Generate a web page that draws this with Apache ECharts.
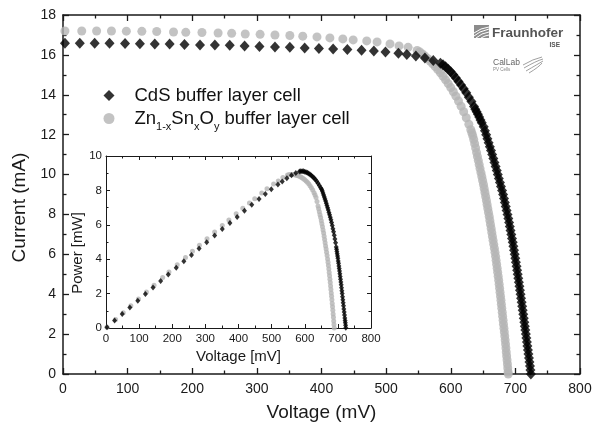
<!DOCTYPE html>
<html>
<head>
<meta charset="utf-8">
<script src="https://cdn.jsdelivr.net/npm/echarts@6/dist/echarts.min.js"></script>
<style>
  html, body { margin: 0; padding: 0; background: #fff; }
  #chart { width: 600px; height: 427px; }
</style>
</head>
<body>
<div id="chart"></div>
<script>
// main I-V curves, CdS buffer layer cell: voltage (mV), current (mA)
const cdsVoltage = [3, 26, 49, 72, 96, 119, 142, 165, 188, 212, 235, 258, 281, 304, 328, 351, 374, 396, 418, 440, 462, 481, 499, 519, 532, 546, 560, 573, 584,
  588, 592, 596, 600, 604, 608, 612, 616, 620, 624, 628, 632, 636, 638, 640, 642, 644, 646, 648,
  651, 652.9, 654.8, 656.7, 658.6, 660.5, 662.3, 664.1, 665.9, 667.6, 669.4, 671.2, 672.8, 674.4, 676.1, 677.7, 679.4,
  681, 682.4, 683.7, 685.1, 686.4, 687.8, 689.1, 690.3, 691.4, 692.5, 693.7, 694.8, 695.9, 696.9, 697.9, 698.9, 699.9,
  700.8, 701.8, 702.7, 703.6, 704.5, 705.4, 706.3, 707.1, 708.0, 708.8, 709.7, 710.5, 711.3, 712.2, 713.0, 713.8, 714.6,
  715.4, 716.2, 717.0, 717.8, 718.6, 719.4, 720.2, 721.0, 721.8, 722.6, 723.3, 724.0];
const cdsCurrent = [16.58, 16.58, 16.58, 16.58, 16.57, 16.56, 16.55, 16.54, 16.52, 16.5, 16.5, 16.48, 16.45, 16.42, 16.4, 16.38, 16.35, 16.32, 16.3, 16.27, 16.23, 16.2, 16.15, 16.08, 16.02, 15.95, 15.85, 15.72, 15.58,
  15.5, 15.4, 15.28, 15.15, 15.0, 14.84, 14.67, 14.49, 14.3, 14.1, 13.88, 13.66, 13.41, 13.28, 13.15, 13.02, 12.88, 12.74, 12.6,
  12.4, 12.2, 12.0, 11.8, 11.6, 11.4, 11.2, 11.0, 10.8, 10.6, 10.4, 10.2, 10.0, 9.8, 9.6, 9.4, 9.2,
  9.0, 8.8, 8.6, 8.4, 8.2, 8.0, 7.8, 7.6, 7.4, 7.2, 7.0, 6.8, 6.6, 6.4, 6.2, 6.0, 5.8,
  5.6, 5.4, 5.2, 5.0, 4.8, 4.6, 4.4, 4.2, 4.0, 3.8, 3.6, 3.4, 3.2, 3.0, 2.8, 2.6, 2.4,
  2.2, 2.0, 1.8, 1.6, 1.4, 1.2, 1.0, 0.8, 0.6, 0.4, 0.2, 0.0];

// main I-V curves, Zn(1-x)Sn(x)O(y) buffer layer cell
const znoVoltage = [3, 29, 52, 75, 98, 122, 145, 171, 190, 215, 240, 261, 282, 305, 328, 351, 371, 393, 413, 433, 449, 470, 486, 506, 520, 534, 548,
  552, 556, 560, 564, 568, 572, 576, 580, 584, 588, 592, 596, 600, 604, 608, 612, 616, 620, 624, 628, 631, 632.5, 634, 635.5, 637, 638.5, 640,
  641.3, 642.7, 644.0, 645.3, 646.7, 648.0, 649.3, 650.6, 651.7, 652.9, 654.0, 655.2, 656.2, 657.3, 658.4, 659.5,
  660.5, 661.5, 662.5, 663.5, 664.5, 665.5, 666.5, 667.5, 668.5, 669.4, 670.2, 671.0, 671.8, 672.6, 673.4,
  674.2, 674.9, 675.6, 676.3, 677.0, 677.7, 678.3, 679.0, 679.7, 680.3, 681.0, 681.6, 682.3, 682.9, 683.6,
  684.2, 684.8, 685.4, 685.9, 686.5, 687.1, 687.7, 688.2, 688.7, 689.0];
const znoCurrent = [17.2, 17.2, 17.2, 17.2, 17.19, 17.18, 17.17, 17.15, 17.13, 17.12, 17.1, 17.08, 17.05, 17.03, 17.0, 16.97, 16.94, 16.9, 16.85, 16.8, 16.75, 16.7, 16.65, 16.55, 16.45, 16.38, 16.22,
  16.15, 16.05, 15.94, 15.82, 15.69, 15.55, 15.41, 15.26, 15.1, 14.93, 14.75, 14.56, 14.36, 14.15, 13.93, 13.69, 13.43, 13.15, 12.85, 12.52, 12.25, 12.1, 11.95, 11.76, 11.55, 11.33, 11.1,
  10.9, 10.7, 10.5, 10.3, 10.1, 9.9, 9.7, 9.5, 9.3, 9.1, 8.9, 8.7, 8.5, 8.3, 8.1, 7.9,
  7.7, 7.5, 7.3, 7.1, 6.9, 6.7, 6.5, 6.3, 6.1, 5.9, 5.7, 5.5, 5.3, 5.1, 4.9,
  4.7, 4.5, 4.3, 4.1, 3.9, 3.7, 3.5, 3.3, 3.1, 2.9, 2.7, 2.5, 2.3, 2.1, 1.9,
  1.7, 1.5, 1.3, 1.1, 0.9, 0.7, 0.5, 0.3, 0.1, 0.0];

// inset P-V curves: voltage (mV), power (mW)
const cdsInsetVoltage = [3, 26, 49, 72, 96, 119, 142, 165, 188, 212, 235, 258, 281, 304, 328, 351, 374, 396, 418, 440, 462, 481, 499, 519, 532, 546, 560, 573, 584,
  588, 592, 596, 600, 604, 608, 612, 616, 620, 624, 628, 632, 636, 640, 644, 648, 651,
  653, 655, 657, 659, 661, 663, 665, 667, 669, 671, 673, 675, 677, 679, 681, 683, 685, 687, 689, 691, 693, 695,
  696, 697, 698, 699, 700, 701, 702, 703, 704, 705, 706, 707, 708, 709, 710, 711, 712, 713, 714, 715, 716, 717, 718, 719, 720, 721, 721.8, 722.5, 723.2, 724];
const cdsPower = [0.05, 0.43, 0.81, 1.19, 1.59, 1.97, 2.35, 2.73, 3.11, 3.5, 3.88, 4.25, 4.62, 4.99, 5.38, 5.75, 6.11, 6.46, 6.81, 7.16, 7.5, 7.79, 8.06, 8.35, 8.52, 8.71, 8.88, 9.01, 9.1,
  9.11, 9.12, 9.11, 9.09, 9.06, 9.02, 8.98, 8.93, 8.87, 8.8, 8.72, 8.63, 8.53, 8.42, 8.29, 8.16, 8.07,
  7.96, 7.85, 7.73, 7.62, 7.5, 7.38, 7.26, 7.12, 6.99, 6.86, 6.72, 6.58, 6.44, 6.29, 6.13, 5.96, 5.77, 5.59, 5.39, 5.18, 4.95, 4.71,
  4.58, 4.45, 4.31, 4.18, 4.05, 3.9, 3.76, 3.61, 3.46, 3.31, 3.16, 3.0, 2.83, 2.67, 2.51, 2.34, 2.17, 2.0, 1.82, 1.64, 1.47, 1.29, 1.11, 0.93, 0.76, 0.58, 0.43, 0.3, 0.16, 0.01];
const znoInsetVoltage = [3, 29, 52, 75, 98, 122, 145, 171, 190, 215, 240, 261, 282, 305, 328, 351, 371, 393, 413, 433, 449, 470, 486, 506, 520, 534, 548,
  552, 556, 560, 564, 568, 572, 576, 580, 584, 588, 592, 596, 600, 604, 608, 612, 616, 620, 624, 628, 631, 634, 637, 640,
  642, 644, 646, 648, 650, 651.7, 653.5, 655.2, 657, 658.5, 660, 661.5, 663, 664.5, 666, 667.5, 669, 670.3, 671.5, 672.7, 673.8, 674.9,
  676, 677, 678, 679, 680, 681, 682, 683, 683.9, 684.8, 685.7, 686.6, 687.4, 688.2, 689];
const znoPower = [0.05, 0.5, 0.89, 1.29, 1.68, 2.1, 2.49, 2.93, 3.25, 3.68, 4.1, 4.46, 4.81, 5.19, 5.58, 5.96, 6.28, 6.64, 6.96, 7.27, 7.52, 7.85, 8.09, 8.37, 8.55, 8.75, 8.89,
  8.91, 8.92, 8.93, 8.92, 8.91, 8.89, 8.88, 8.85, 8.82, 8.78, 8.73, 8.68, 8.62, 8.55, 8.47, 8.38, 8.27, 8.15, 8.02, 7.86, 7.73, 7.58, 7.36, 7.1,
  6.93, 6.76, 6.59, 6.42, 6.24, 6.06, 5.88, 5.7, 5.52, 5.33, 5.15, 4.96, 4.77, 4.59, 4.4, 4.21, 4.01, 3.82, 3.63, 3.43, 3.23, 3.04,
  2.84, 2.64, 2.44, 2.24, 2.04, 1.84, 1.64, 1.43, 1.23, 1.03, 0.82, 0.62, 0.41, 0.21, 0];

const cdsName = 'CdS buffer layer cell';
const znoName = 'Zn1-xSnxOy buffer layer cell';

const FONT = '"Liberation Sans", Arial, sans-serif';
const INK = '#1a1a1a';
const GREY = '#b4b4b4';

function pairs(xs, ys) {
  return xs.map((x, i) => [x, ys[i]]);
}

function frameAxis(opts) {
  // one side of the boxed frame: line, inward major + minor ticks
  return Object.assign({
    type: 'value',
    axisLine: { show: true, onZero: false, lineStyle: { color: INK, width: opts.thin ? 1 : 1.5 } },
    axisTick: { show: true, inside: true, length: opts.thin ? 4 : 6, lineStyle: { color: INK, width: opts.thin ? 1 : 1.3 } },
    minorTick: { show: true, splitNumber: 2, length: opts.thin ? 2.5 : 3.5, lineStyle: { color: INK, width: opts.thin ? 1 : 1.3 } },
    splitLine: { show: false },
    axisLabel: { show: false }
  }, opts.extra);
}

const chart = echarts.init(document.getElementById('chart'), null, { renderer: 'canvas' });

chart.setOption({
  animation: false,
  backgroundColor: '#fff',
  grid: [
    { left: 63, top: 15, width: 517, height: 360 },
    { left: 106, top: 156, width: 265, height: 172 }
  ],
  legend: {
    orient: 'vertical',
    left: 98.5,
    top: 81,
    itemWidth: 11,
    itemHeight: 11,
    itemGap: 0,
    selectedMode: false,
    data: [
      { name: cdsName, icon: 'diamond', itemStyle: { color: '#000' } },
      { name: znoName, icon: 'circle', itemStyle: { color: GREY } }
    ],
    formatter: function (name) {
      if (name === znoName) {
        return '{p|}{n|Zn}{s|1-x}{n|Sn}{s|x}{n|O}{s|y}{n| buffer layer cell}';
      }
      return '{p|}{n|' + name + '}';
    },
    textStyle: {
      rich: {
        p: { width: 15 },
        n: { fontFamily: FONT, fontSize: 18.5, color: '#111', lineHeight: 23 },
        s: { fontFamily: FONT, fontSize: 11, color: '#111', lineHeight: 23, padding: [16, 0, 0, 0] }
      }
    }
  },
  xAxis: [
    frameAxis({ extra: {
      gridIndex: 0, position: 'bottom', min: 0, max: 800, interval: 100,
      axisLabel: { show: true, fontFamily: FONT, fontSize: 14, color: INK, margin: 8 },
      name: 'Voltage (mV)', nameLocation: 'middle', nameGap: 29,
      nameTextStyle: { fontFamily: FONT, fontSize: 19, color: INK }
    } }),
    frameAxis({ extra: { gridIndex: 0, position: 'top', min: 0, max: 800, interval: 100 } }),
    frameAxis({ thin: true, extra: {
      gridIndex: 1, position: 'bottom', min: 0, max: 800, interval: 100,
      axisLabel: { show: true, fontFamily: FONT, fontSize: 11.5, color: INK, margin: 5 },
      name: 'Voltage [mV]', nameLocation: 'middle', nameGap: 21,
      nameTextStyle: { fontFamily: FONT, fontSize: 15, color: INK }
    } }),
    frameAxis({ thin: true, extra: { gridIndex: 1, position: 'top', min: 0, max: 800, interval: 100 } })
  ],
  yAxis: [
    frameAxis({ extra: {
      gridIndex: 0, position: 'left', min: 0, max: 18, interval: 2,
      axisLabel: { show: true, fontFamily: FONT, fontSize: 14, color: INK, margin: 7 },
      name: 'Current (mA)', nameLocation: 'middle', nameGap: 30,
      nameTextStyle: { fontFamily: FONT, fontSize: 19, color: INK, padding: [0, 26, 0, 0] }
    } }),
    frameAxis({ extra: { gridIndex: 0, position: 'right', min: 0, max: 18, interval: 2 } }),
    frameAxis({ thin: true, extra: {
      gridIndex: 1, position: 'left', min: 0, max: 10, interval: 2,
      axisLabel: { show: true, fontFamily: FONT, fontSize: 11.5, color: INK, margin: 4 },
      name: 'Power [mW]', nameLocation: 'middle', nameGap: 14,
      nameTextStyle: { fontFamily: FONT, fontSize: 15, color: INK, padding: [0, 22, 0, 0] }
    } }),
    frameAxis({ thin: true, extra: { gridIndex: 1, position: 'right', min: 0, max: 10, interval: 2 } })
  ],
  series: [
    {
      name: znoName, type: 'scatter', xAxisIndex: 0, yAxisIndex: 0,
      data: pairs(znoVoltage, znoCurrent),
      symbol: 'circle', symbolSize: 9, itemStyle: { color: GREY }, z: 2
    },
    {
      name: cdsName, type: 'scatter', xAxisIndex: 0, yAxisIndex: 0,
      data: pairs(cdsVoltage, cdsCurrent),
      symbol: 'diamond', symbolSize: [10, 11], itemStyle: { color: '#000' }, z: 3
    },
    {
      name: znoName, type: 'scatter', xAxisIndex: 2, yAxisIndex: 2,
      data: pairs(znoInsetVoltage, znoPower),
      symbol: 'circle', symbolSize: 5, itemStyle: { color: GREY }, z: 2
    },
    {
      name: cdsName, type: 'scatter', xAxisIndex: 2, yAxisIndex: 2,
      data: pairs(cdsInsetVoltage, cdsPower),
      symbol: 'diamond', symbolSize: [5, 6], itemStyle: { color: '#000' }, z: 3
    }
  ],
  graphic: [
    // Fraunhofer ISE logo
    { type: 'rect', left: 474, top: 25, shape: { width: 15, height: 13 }, style: { fill: '#8c8c8c' } },
    { type: 'polyline', shape: { points: [[474, 36], [480, 32], [489, 29]] }, style: { stroke: '#fff', lineWidth: 1, fill: null } },
    { type: 'polyline', shape: { points: [[474, 33], [481, 29], [489, 27]] }, style: { stroke: '#fff', lineWidth: 1, fill: null } },
    { type: 'polyline', shape: { points: [[476, 38], [482, 34], [489, 32]] }, style: { stroke: '#fff', lineWidth: 1, fill: null } },
    { type: 'polyline', shape: { points: [[481, 38], [485, 36], [489, 35]] }, style: { stroke: '#fff', lineWidth: 1, fill: null } },
    { type: 'text', left: 492, top: 26, style: { text: 'Fraunhofer', font: 'bold 13.5px ' + FONT, fill: '#555' } },
    { type: 'text', right: 40, top: 42, style: { text: 'ISE', font: 'bold 6.5px ' + FONT, fill: '#555' } },
    // CalLab PV Cells logo
    { type: 'text', left: 493, top: 58, style: { text: 'CalLab', font: '8.5px ' + FONT, fill: '#666' } },
    { type: 'text', left: 493, top: 67, style: { text: 'PV Cells', font: '4.5px ' + FONT, fill: '#888' } },
    { type: 'bezierCurve', shape: { x1: 523, y1: 65, x2: 542, y2: 57, cpx1: 533, cpy1: 59 }, style: { stroke: '#888', lineWidth: 0.8, fill: null } },
    { type: 'bezierCurve', shape: { x1: 524, y1: 68, x2: 543, y2: 59, cpx1: 536, cpy1: 61 }, style: { stroke: '#888', lineWidth: 0.8, fill: null } },
    { type: 'bezierCurve', shape: { x1: 526, y1: 71, x2: 543, y2: 61, cpx1: 538, cpy1: 64 }, style: { stroke: '#888', lineWidth: 0.8, fill: null } },
    { type: 'bezierCurve', shape: { x1: 529, y1: 73, x2: 542, y2: 63, cpx1: 539, cpy1: 67 }, style: { stroke: '#888', lineWidth: 0.8, fill: null } }
  ]
});

window.addEventListener('resize', function () {
  chart.resize();
});
</script>
</body>
</html>
